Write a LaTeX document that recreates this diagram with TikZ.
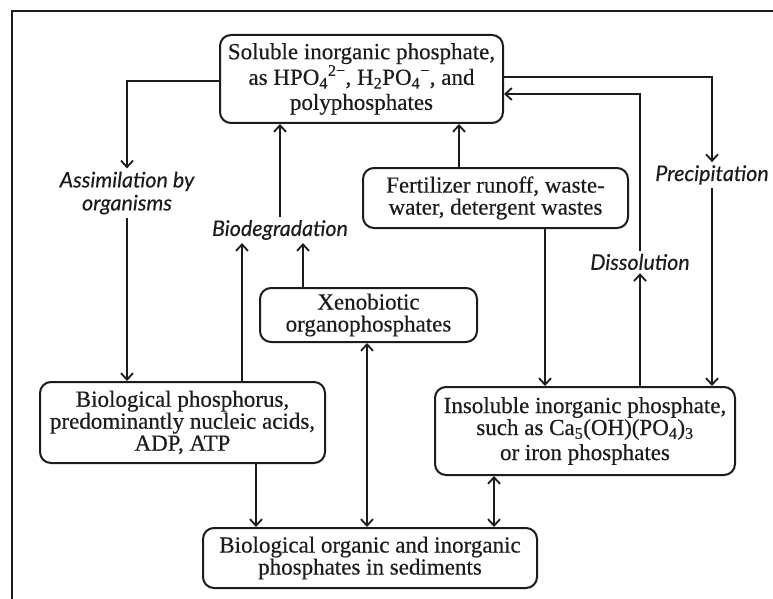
\documentclass[tikz,border=0pt]{standalone}
\usepackage{fontspec}
\setmainfont{Liberation Serif}[FakeBold=0.4]
\newfontfamily\labfamily{Lato}[FakeBold=0.3]
\usetikzlibrary{arrows.meta}
\definecolor{ink}{HTML}{1C1C1C}
\newcommand{\boxtxt}{\fontsize{23}{22}\selectfont}
\newcommand{\labtxt}{\labfamily\itshape\fontsize{21.5}{23}\selectfont}
\tikzset{
  box/.style={draw=ink, line width=2pt, rounded corners=11pt, align=center,
    font=\boxtxt, inner sep=0pt, text=ink},
  lab/.style={align=center, font=\labtxt, inner sep=3pt, text=ink},
  tip/.tip={Straight Barb[length=6.5pt,width=12pt,line width=1.8pt]},
  arr/.style={line width=1.8pt, draw=ink, -tip},
  darr/.style={line width=1.8pt, draw=ink, tip-tip},
}
\begin{document}
\begin{tikzpicture}[x=1pt,y=-1pt]
\fill[white] (0,0) rectangle (773,599);
\useasboundingbox (0,0) rectangle (773,599);
% frame
\draw[ink, line width=2.2pt] (12,599) -- (12,11) -- (773,11);

% boxes
\node[box, minimum width=283pt, minimum height=88pt] (top) at (361.5,79)
  {Soluble inorganic phosphate,\\
   as HPO\textsubscript{4}\textsuperscript{2−}, H\textsubscript{2}PO\textsubscript{4}\textsuperscript{−}, and\\[3pt]
   polyphosphates};
\node[box, minimum width=265pt, minimum height=60pt] (fert) at (495.5,198)
  {Fertilizer runoff, waste-\\ water, detergent wastes};
\node[box, minimum width=217pt, minimum height=54pt] (xeno) at (368.5,315)
  {Xenobiotic\\ organophosphates};
\node[box, minimum width=285pt, minimum height=81pt] (bio) at (182.5,422.5)
  {Biological phosphorus,\\ predominantly nucleic acids,\\ ADP, ATP};
\node[box, minimum width=300pt, minimum height=88pt] (insol) at (585,431)
  {Insoluble inorganic phosphate,\\
   such as Ca\textsubscript{5}(OH)(PO\textsubscript{4})\textsubscript{3}\\[3pt]
   or iron phosphates};
\node[box, minimum width=334pt, minimum height=60pt] (sed) at (370,558)
  {Biological organic and inorganic\\ phosphates in sediments};

% labels
\node[lab] (assim) at (127,193) {Assimilation by\\ organisms};
\node[lab] (biodeg) at (280,230) {Biodegradation};
\node[lab] (precip) at (712,175) {Precipitation};
\node[lab] (dissol) at (640,262) {Dissolution};

% connectors
\draw[arr] ([yshift=-2pt]top.west) -| (assim.north);
\draw[arr] (assim.south) -- (assim.south |- bio.north);

\draw[arr] ([yshift=2pt]top.east) -| (precip.north);
\draw[arr] (precip.south) -- (precip.south |- insol.north);

\draw[arr] (dissol.south |- insol.north) -- (dissol.south);
\draw[arr] (dissol.north) |- ([yshift=-15pt]top.east);

\draw[arr] ([xshift=-36.5pt]fert.north) -- ([xshift=-36.5pt]fert.north |- top.south);
\draw[arr] ([xshift=49.5pt]fert.south) -- ([xshift=49.5pt]fert.south |- insol.north);

\draw[arr] (biodeg.north) -- (biodeg.north |- top.south);
\draw[arr] ([xshift=59.5pt]bio.north) -- ([xshift=59.5pt]bio.north |- biodeg.south);
\draw[arr] ([xshift=-65.5pt]xeno.north) -- ([xshift=-65.5pt]xeno.north |- biodeg.south);

\draw[darr] ([xshift=-1.5pt]xeno.south) -- ([xshift=-1.5pt]xeno.south |- sed.north);
\draw[arr] ([xshift=73.5pt]bio.south) -- ([xshift=73.5pt]bio.south |- sed.north);
\draw[darr] ([xshift=-91pt]insol.south) -- ([xshift=-91pt]insol.south |- sed.north);
\end{tikzpicture}
\end{document}
